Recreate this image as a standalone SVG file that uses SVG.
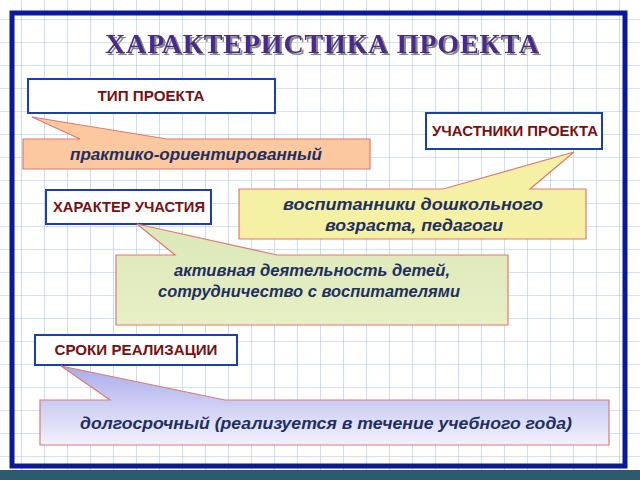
<svg xmlns="http://www.w3.org/2000/svg" width="640" height="480" viewBox="0 0 640 480">
<defs>
<pattern id="grid" width="23" height="23" patternUnits="userSpaceOnUse" x="-2" y="-4">
<path d="M0 0H23M0 0V23" stroke="#a9c4ec" stroke-width="1.2" fill="none"/>
</pattern>
<linearGradient id="lav" x1="0" y1="0" x2="0" y2="1">
<stop offset="0" stop-color="#a9acec"/><stop offset="1" stop-color="#f2f2fc"/>
</linearGradient>
<linearGradient id="grn" x1="0" y1="0" x2="0" y2="1">
<stop offset="0" stop-color="#dbe8b8"/><stop offset="1" stop-color="#e8efc6"/>
</linearGradient>
<filter id="sh" x="-5%" y="-20%" width="110%" height="140%">
<feDropShadow dx="2" dy="2" stdDeviation="0.6" flood-color="#888"/>
</filter>
<style>
.lbl{fill:#fff;stroke:#1a3fb0;stroke-width:2}
.lt{font-family:"Liberation Sans",Arial,sans-serif;font-weight:bold;font-size:14px;fill:#7a0f0f;text-anchor:middle}
.ct{font-family:"Liberation Sans",Arial,sans-serif;font-weight:bold;font-style:italic;font-size:16.5px;fill:#1f2f5e;text-anchor:middle}
.co{stroke:#e07a6e;stroke-width:1.2}
</style>
</defs>
<rect width="640" height="480" fill="#fff"/>
<rect width="640" height="480" fill="url(#grid)"/>
<rect x="0" y="470" width="640" height="10" fill="#2e5a6e"/>
<rect x="12" y="13" width="613" height="453" fill="none" stroke="#0a189a" stroke-width="5"/>
<text x="322" y="53" font-family="Liberation Serif,serif" font-weight="bold" font-size="28" fill="#4a2a8a" text-anchor="middle" textLength="434" filter="url(#sh)">ХАРАКТЕРИСТИКА  ПРОЕКТА</text>
<g id="n1">
<rect class="lbl" x="28" y="79" width="247" height="34"/>
<text class="lt" x="151" y="101" textLength="107" lengthAdjust="spacingAndGlyphs">ТИП ПРОЕКТА</text>
</g>
<g id="c1">
<path class="co" d="M23 139H80L32 117L167 139H370V169H23Z" fill="#fbc8a0"/>
<text class="ct" x="196" y="160" textLength="252" lengthAdjust="spacingAndGlyphs">практико-ориентированный</text>
</g>
<g id="n2">
<rect class="lbl" x="426" y="113" width="176" height="36"/>
<text class="lt" x="515" y="136" textLength="166" lengthAdjust="spacingAndGlyphs">УЧАСТНИКИ ПРОЕКТА</text>
</g>
<g id="c2">
<path class="co" d="M239 189H443L574 152L530 189H586V239H239Z" fill="#f4f0a4"/>
<text class="ct" x="413" y="210" textLength="260" lengthAdjust="spacingAndGlyphs">воспитанники  дошкольного</text>
<text class="ct" x="414" y="231" textLength="178" lengthAdjust="spacingAndGlyphs">возраста,  педагоги</text>
</g>
<g id="n3">
<rect class="lbl" x="46" y="190" width="165" height="34"/>
<text class="lt" x="129" y="212" textLength="152" lengthAdjust="spacingAndGlyphs">ХАРАКТЕР УЧАСТИЯ</text>
</g>
<g id="c3">
<path class="co" d="M116 255H175L137 224L277 255H508V325H116Z" fill="url(#grn)"/>
<text class="ct" x="312" y="276" textLength="276" lengthAdjust="spacingAndGlyphs">активная деятельность детей,</text>
<text class="ct" x="309" y="297" textLength="302" lengthAdjust="spacingAndGlyphs">сотрудничество с воспитателями</text>
</g>
<g id="n4">
<rect class="lbl" x="35" y="335" width="202" height="30"/>
<text class="lt" x="136" y="355" textLength="163" lengthAdjust="spacingAndGlyphs">СРОКИ  РЕАЛИЗАЦИИ</text>
</g>
<g id="c4">
<path class="co" d="M40 400H110L61 366L225 400H609V445H40Z" fill="url(#lav)"/>
<text class="ct" x="326" y="429" textLength="492" lengthAdjust="spacingAndGlyphs">долгосрочный (реализуется в течение учебного года)</text>
</g>
</svg>
